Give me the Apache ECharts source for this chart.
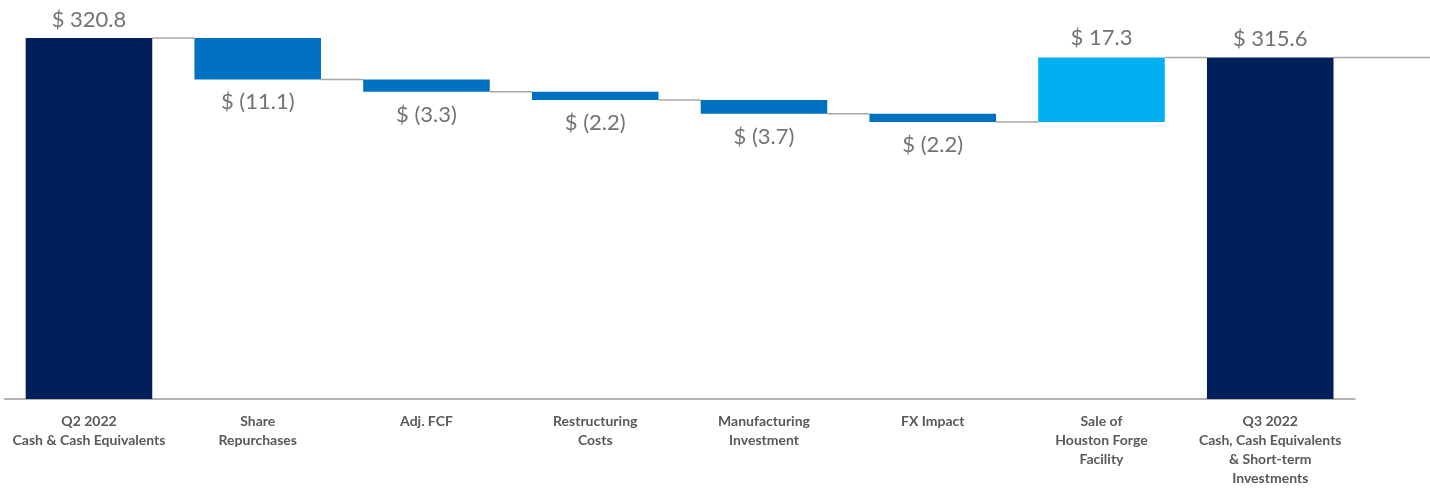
<!DOCTYPE html>
<html>
<head>
<meta charset="utf-8">
<script src="https://cdn.jsdelivr.net/npm/echarts@6/dist/echarts.min.js"></script>
<style>
html,body{margin:0;padding:0;background:#fff;}
#chart{width:1430px;height:491px;}
</style>
</head>
<body>
<div id="chart"></div>
<script>
var categories = [
  'Q2 2022\nCash & Cash Equivalents',
  'Share\nRepurchases',
  'Adj. FCF',
  'Restructuring\nCosts',
  'Manufacturing\nInvestment',
  'FX Impact',
  'Sale of\nHouston Forge\nFacility',
  'Q3 2022\nCash, Cash Equivalents\n& Short-term\nInvestments'
];
var values = [320.8, -11.1, -3.3, -2.2, -3.7, -2.2, 17.3, 315.6];
var kinds = ['total', 'delta', 'delta', 'delta', 'delta', 'delta', 'delta', 'total'];

var COLOR_TOTAL = '#001f5b';
var COLOR_NEG = '#0070c0';
var COLOR_POS = '#00b0f0';

var baseData = [], barData = [], levels = [];
var running = 0;
for (var i = 0; i < values.length; i++) {
  var v = values[i];
  if (kinds[i] === 'total') {
    baseData.push(0);
    running = v;
    barData.push({value: v, itemStyle: {color: COLOR_TOTAL}, label: {position: 'top'}});
  } else {
    var start = running, end = running + v;
    baseData.push(Math.min(start, end));
    barData.push({
      value: Math.abs(v),
      itemStyle: {color: v < 0 ? COLOR_NEG : COLOR_POS},
      label: {position: v < 0 ? 'bottom' : 'top', distance: v < 0 ? 12 : 8}
    });
    running = end;
  }
  levels.push(running);
}

function fmt(i) {
  var v = values[i];
  return v < 0 ? '$ (' + Math.abs(v).toFixed(1) + ')' : '$ ' + v.toFixed(1);
}

var chart = echarts.init(document.getElementById('chart'));
chart.setOption({
  animation: false,
  backgroundColor: '#ffffff',
  grid: {left: 4.6, right: 75.4, top: 38, bottom: 92, containLabel: false},
  xAxis: {
    type: 'category',
    data: categories,
    axisLine: {lineStyle: {color: '#b4b4b4', width: 2}},
    axisTick: {show: false},
    axisLabel: {
      interval: 0,
      margin: 13,
      color: '#595959',
      fontFamily: 'Lato',
      fontWeight: 'bold',
      fontSize: 14,
      lineHeight: 19
    }
  },
  yAxis: {
    type: 'value',
    min: 224,
    max: 320.8,
    show: false,
    splitLine: {show: false}
  },
  series: [
    {
      type: 'bar',
      stack: 'w',
      barWidth: '75%',
      data: baseData,
      itemStyle: {color: 'transparent'},
      silent: true
    },
    {
      type: 'bar',
      stack: 'w',
      barWidth: '75%',
      data: barData,
      label: {
        show: true,
        distance: 7,
        fontFamily: 'Lato',
        fontSize: 22,
        color: '#737373',
        formatter: function (p) { return fmt(p.dataIndex); }
      }
    },
    {
      type: 'custom',
      clip: false,
      silent: true,
      z: 1,
      data: levels.map(function (l, i) { return [i, l]; }),
      renderItem: function (params, api) {
        var i = api.value(0);
        var lvl = api.value(1);
        var band = api.size([1, 0])[0];
        var bw = band * 0.75;
        var p = api.coord([i, lvl]);
        var x1 = p[0] + bw / 2;
        var x2;
        if (i < values.length - 1) {
          var q = api.coord([i + 1, lvl]);
          x2 = q[0] - bw / 2;
        } else {
          x2 = api.getWidth();
        }
        return {
          type: 'line',
          shape: {x1: x1, y1: p[1], x2: x2, y2: p[1]},
          style: {stroke: '#a6a6a6', lineWidth: 1.5}
        };
      }
    }
  ]
});
</script>
</body>
</html>
